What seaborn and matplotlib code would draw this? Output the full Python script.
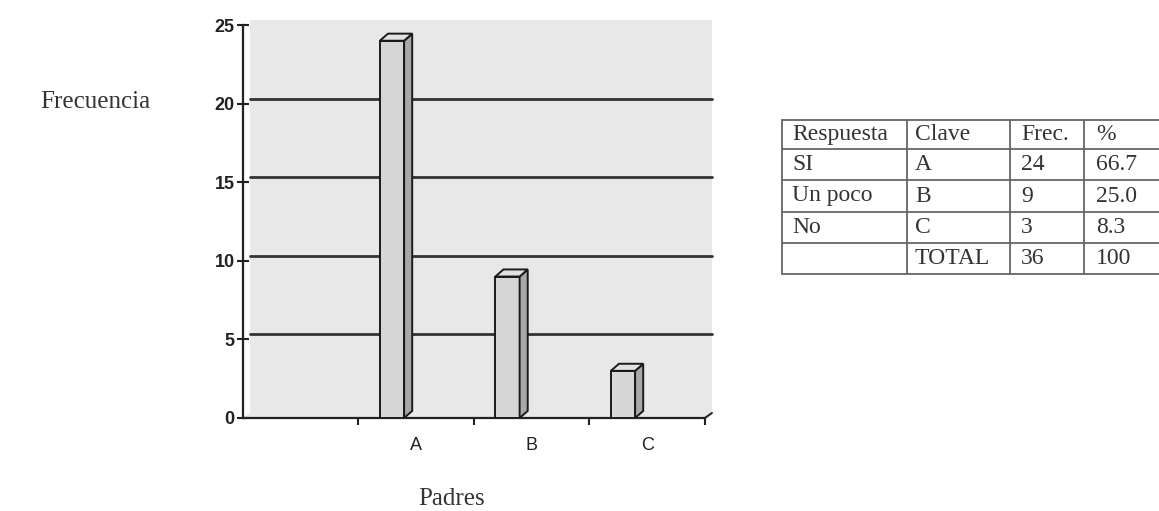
import matplotlib
matplotlib.use('Agg')
import matplotlib.pyplot as plt
from matplotlib.patches import Polygon, Rectangle
from matplotlib.lines import Line2D
import seaborn as sns
import pandas as pd

# --- data ---
claves = ['A', 'B', 'C']
frecuencias = [24, 9, 3]
respuestas = ['SI', 'Un poco', 'No']
porcentajes = ['66.7', '25.0', '8.3']
total_frec = '36'
total_pct = '100'
encabezados = ['Respuesta', 'Clave', 'Frec.', '%']
y_ticks = [0, 5, 10, 15, 20, 25]

W, H = 1159, 511
sns.set_style('white')
plt.rcParams['font.family'] = ['Liberation Sans', 'DejaVu Sans']
serif = ['Liberation Serif', 'DejaVu Serif']

fig = plt.figure(figsize=(W / 100, H / 100), dpi=100)
ax = fig.add_axes([243 / W, 1 - 418 / H, 462 / W, 393 / H])
ax.set_facecolor('none')

df = pd.DataFrame({'clave': claves, 'frec': frecuencias})
sns.barplot(data=df, x='clave', y='frec', color='#d6d6d6', width=0.21,
            edgecolor='#1a1a1a', linewidth=1.4, saturation=1, ax=ax, zorder=3)
bars = list(ax.patches)

ax.set_xlim(-1.5, 2.5)
ax.set_ylim(0, 25)

# 3d look: back wall / floor offset, bar depth
wx, wy = 0.06, 0.32
dx, dy = 0.07, 0.45

ax.add_patch(Rectangle((-1.5 + wx, wy), 4, 25, facecolor='#e8e8e8',
                       edgecolor='none', zorder=0, clip_on=False))
ax.add_patch(Polygon([(-1.5, 0), (2.5, 0), (2.5 + wx, wy), (-1.5 + wx, wy)],
                     facecolor='#e8e8e8', edgecolor='none', zorder=0, clip_on=False))
for v in y_ticks[1:-1]:
    ax.plot([-1.5 + wx, 2.5 + wx], [v + wy, v + wy], color='#333333', lw=2.0,
            zorder=1, clip_on=False)
ax.plot([2.5, 2.5 + wx], [0, wy], color='#2a2a2a', lw=1.5, zorder=2, clip_on=False)

for p in bars:
    p.set_x(p.get_x() - 0.21)
    x0 = p.get_x()
    x1 = x0 + p.get_width()
    h = p.get_height()
    ax.add_patch(Polygon([(x1, 0), (x1 + dx, dy), (x1 + dx, h + dy), (x1, h)],
                         facecolor='#a8a8a8', edgecolor='#1a1a1a', lw=1.4, zorder=3))
    ax.add_patch(Polygon([(x0, h), (x0 + dx, h + dy), (x1 + dx, h + dy), (x1, h)],
                         facecolor='#e2e2e2', edgecolor='#1a1a1a', lw=1.4, zorder=3))

for s in ['top', 'right']:
    ax.spines[s].set_visible(False)
for s in ['left', 'bottom']:
    ax.spines[s].set_color('#222222')
    ax.spines[s].set_linewidth(1.6)

ax.set_yticks(y_ticks)
ax.tick_params(axis='y', left=True, direction='inout', length=8, width=1.5,
               labelsize=13, pad=2, color='#222222', labelcolor='#222222')
for t in ax.get_yticklabels():
    t.set_fontweight('bold')
ax.set_xticks(range(len(claves)))
ax.set_xticklabels(claves)
ax.tick_params(axis='x', which='major', bottom=True, length=0, pad=14,
               labelsize=13, labelcolor='#222222')
ax.set_xticks([-0.5, 0.5, 1.5, 2.5], minor=True)
ax.tick_params(axis='x', which='minor', bottom=True, direction='out', length=5,
               width=1.5, color='#222222')
ax.set_xlabel('')
ax.set_ylabel('')

fig.text(150 / W, 1 - 108 / H, 'Frecuencia', ha='right', va='baseline',
         fontsize=18, family=serif, color='#333333')
fig.text(452 / W, 1 - 505 / H, 'Padres', ha='center', va='baseline',
         fontsize=18, family=serif, color='#333333')

# --- table ---
cols = [782, 907, 1010, 1084, 1175]
rows = [120, 149, 180, 212, 243, 274]
pads = [10, 8, 11, 12]
for y in rows:
    fig.add_artist(Line2D([cols[0] / W, cols[-1] / W], [1 - y / H, 1 - y / H],
                          color='#666666', lw=1.3))
for x in cols:
    fig.add_artist(Line2D([x / W, x / W], [1 - rows[0] / H, 1 - rows[-1] / H],
                          color='#666666', lw=1.3))

tabla = [encabezados]
for r, c, f, pct in zip(respuestas, claves, frecuencias, porcentajes):
    tabla.append([r, c, str(f), pct])
tabla.append(['', 'TOTAL', total_frec, total_pct])

for i, fila in enumerate(tabla):
    yc = (rows[i] + rows[i + 1]) / 2
    for j, txt in enumerate(fila):
        fig.text((cols[j] + pads[j]) / W, 1 - yc / H, txt, ha='left', va='center',
                 fontsize=17, family=serif, color='#333333')

fig.savefig('out.png', dpi=100, facecolor='white')
